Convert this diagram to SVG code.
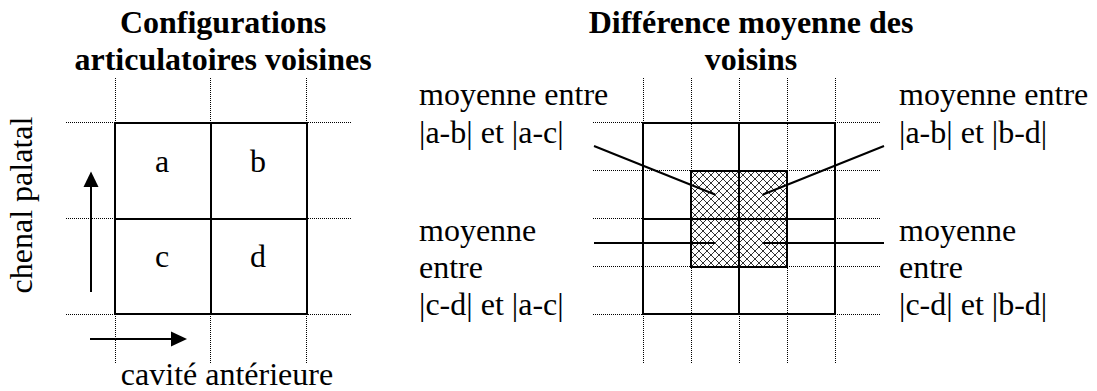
<svg xmlns="http://www.w3.org/2000/svg" width="1097" height="391" viewBox="0 0 1097 391" font-family="'Liberation Serif', 'Times New Roman', serif" font-size="32">
<style>
.title{font-weight:bold;text-anchor:middle}
.mid{text-anchor:middle}
.dot{stroke:#000;stroke-width:1;stroke-dasharray:1 1;fill:none}
.solid{stroke:#000;stroke-width:2;fill:none}
.lead{stroke:#000;stroke-width:2;fill:none}
.head{fill:#000;stroke:none}
</style>
<defs>
<pattern id="hatch" patternUnits="userSpaceOnUse" width="8" height="8" x="691" y="171">
<rect width="8" height="8" fill="#fff"/>
<path d="M0,0 L8,8 M8,0 L0,8" stroke="#333" stroke-width="1"/>
</pattern>
</defs>

<g id="left-title">
<text class="title" x="223" y="33" font-family="Liberation Serif, serif">Configurations</text>
<text class="title" x="223" y="70" font-family="Liberation Serif, serif">articulatoires voisines</text>
</g>

<g id="left-grid">
<path class="dot" d="M115.5,78 V363 M210.5,78 V363 M306.5,78 V363 M66,122.5 H352 M66,218.5 H352 M66,314.5 H352"/>
<rect x="115" y="123" width="192" height="191" fill="#fff" class="solid"/>
<path class="solid" d="M211,123 V314 M115,219 H307"/>
</g>
<g id="cell-a"><text class="mid" x="162" y="172" font-family="Liberation Serif, serif">a</text></g>
<g id="cell-b"><text class="mid" x="258" y="172" font-family="Liberation Serif, serif">b</text></g>
<g id="cell-c"><text class="mid" x="162" y="267" font-family="Liberation Serif, serif">c</text></g>
<g id="cell-d"><text class="mid" x="258" y="267" font-family="Liberation Serif, serif">d</text></g>

<g id="axis-labels">
<text class="mid" transform="translate(32,205) rotate(-90)" font-family="Liberation Serif, serif">chenal palatal</text>
<text class="mid" x="227" y="385" font-family="Liberation Serif, serif">cavité antérieure</text>
</g>

<g id="right-title">
<text class="title" x="751" y="33" font-family="Liberation Serif, serif">Différence moyenne des</text>
<text class="title" x="751" y="70" font-family="Liberation Serif, serif">voisins</text>
</g>

<g id="right-grid">
<path class="dot" d="M643.5,78 V363 M691.5,78 V363 M739.5,78 V363 M787.5,78 V363 M835.5,78 V363 M593,122.5 H880 M593,170.5 H880 M593,218.5 H880 M593,266.5 H880 M593,314.5 H880"/>
<rect x="691" y="171" width="96" height="96" fill="url(#hatch)"/>
<rect x="643" y="123" width="192" height="191" class="solid"/>
<rect x="691" y="171" width="96" height="96" class="solid"/>
<path class="solid" d="M739,123 V314 M643,219 H835"/>
</g>

<g id="label-ac" font-family="Liberation Serif, serif">
<text x="419" y="105">moyenne entre</text>
<text x="419" y="143">|a-b| et |a-c|</text>
</g>
<g id="label-bd" font-family="Liberation Serif, serif">
<text x="899" y="105">moyenne entre</text>
<text x="899" y="143">|a-b| et |b-d|</text>
</g>
<g id="label-cd-ac" font-family="Liberation Serif, serif">
<text x="419" y="241">moyenne</text>
<text x="419" y="278">entre</text>
<text x="419" y="315">|c-d| et |a-c|</text>
</g>
<g id="label-cd-bd" font-family="Liberation Serif, serif">
<text x="899" y="241">moyenne</text>
<text x="899" y="278">entre</text>
<text x="899" y="315">|c-d| et |b-d|</text>
</g>

<g id="connectors">
<line class="lead" x1="91" y1="292" x2="91" y2="180"/>
<polygon class="head" points="91,171.5 83.5,187 98.5,187"/>
<line class="lead" x1="90" y1="339" x2="178" y2="339"/>
<polygon class="head" points="187,339 171,331.5 171,346.5"/>
<line class="lead" x1="594" y1="146" x2="715" y2="194.5"/>
<line class="lead" x1="884" y1="146" x2="763" y2="194.5"/>
<line class="lead" x1="594" y1="243" x2="715" y2="243"/>
<line class="lead" x1="763" y1="243" x2="884" y2="243"/>
</g>
</svg>
